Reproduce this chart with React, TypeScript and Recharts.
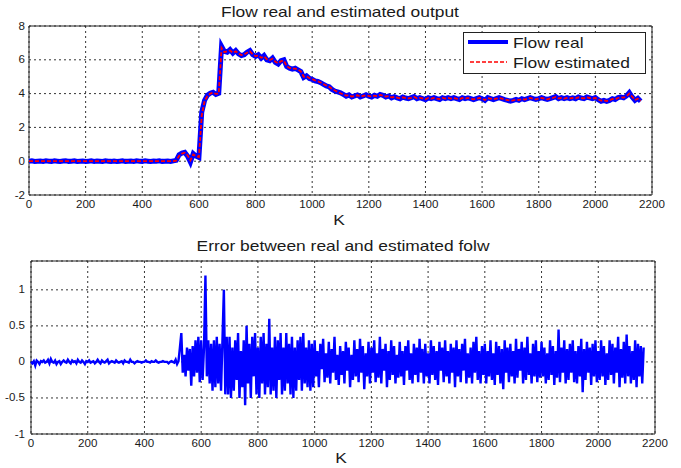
import React from "react";
import {
  LineChart,
  Line,
  XAxis,
  YAxis,
  CartesianGrid,
  ReferenceArea,
} from "recharts";

// sampling steps (in K) of the arrays below
const FLOW_STEP = 10;
const ERR_STEP = 5;

const kTicks = [0, 200, 400, 600, 800, 1000, 1200, 1400, 1600, 1800, 2000, 2200];
const flowTicks = [-2, 0, 2, 4, 6, 8];
const errTicks = [-1, -0.5, 0, 0.5, 1];

// measured flow, one value every 10 K (0 .. 2160)
const flowReal = [
  0, 0.02, -0.02, 0, 0.01, -0.02, 0.02, 0, -0.01, 0.02,
  0, -0.02, 0.01, 0.02, -0.01, 0, 0.02, -0.02, 0, 0.01,
  -0.02, 0, 0.02, -0.01, 0.01, 0, -0.02, 0.02, 0, -0.01,
  0.01, -0.02, 0, 0.02, -0.01, 0, 0.01, -0.02, 0.02, 0,
  -0.01, 0.02, 0, -0.02, 0.01, 0, 0.02, -0.01, 0, 0.01,
  -0.02, 0.02, 0.05, 0.38, 0.48, 0.52, 0.3, -0.05, 0.45, 0.3,
  0.22, 2.9, 3.6, 3.9, 4.02, 4.08, 3.95, 4.02, 6.8, 6.5,
  6.45, 6.6, 6.4, 6.55, 6.35, 6.25, 6.3, 6.45, 6.55, 6.3,
  6.2, 6.3, 6.1, 6.25, 6.0, 5.95, 6.1, 5.85, 5.75, 5.95,
  6.0, 5.6, 5.5, 5.45, 5.5, 5.4, 5.3, 4.95, 5.05, 4.9,
  4.85, 4.75, 4.72, 4.65, 4.55, 4.45, 4.4, 4.25, 4.15, 4.1,
  4.05, 3.95, 3.85, 3.92, 3.8, 3.86, 3.92, 3.8, 3.86, 3.93,
  3.85, 3.8, 3.9, 3.84, 3.95, 3.9, 3.8, 3.86, 3.75, 3.82,
  3.75, 3.7, 3.8, 3.74, 3.7, 3.76, 3.82, 3.7, 3.76, 3.7,
  3.64, 3.75, 3.7, 3.76, 3.7, 3.65, 3.76, 3.7, 3.76, 3.7,
  3.76, 3.7, 3.65, 3.76, 3.7, 3.75, 3.7, 3.64, 3.7, 3.76,
  3.7, 3.6, 3.76, 3.7, 3.64, 3.7, 3.76, 3.7, 3.64, 3.6,
  3.55, 3.6, 3.66, 3.6, 3.7, 3.64, 3.7, 3.76, 3.7, 3.65,
  3.7, 3.76, 3.7, 3.65, 3.7, 3.76, 3.82, 3.7, 3.76, 3.7,
  3.76, 3.7, 3.75, 3.7, 3.8, 3.74, 3.7, 3.8, 3.75, 3.7,
  3.76, 3.64, 3.55, 3.6, 3.54, 3.6, 3.7, 3.65, 3.76, 3.8,
  3.75, 3.86, 4.06, 3.8, 3.6, 3.72, 3.55,
];

// estimated flow, same sampling
const flowEst = [
  0, 0, 0, 0, 0, 0, 0, 0, 0, 0,
  0, 0, 0, 0, 0, 0, 0, 0, 0, 0,
  0, 0, 0, 0, 0, 0, 0, 0, 0, 0,
  0, 0, 0, 0, 0, 0, 0, 0, 0, 0,
  0, 0, 0, 0, 0, 0, 0, 0, 0, 0,
  0, 0, 0.03, 0.32, 0.45, 0.5, 0.35, 0.05, 0.4, 0.3,
  0.25, 2.7, 3.55, 3.85, 4.0, 4.05, 3.98, 4.0, 6.7, 6.45,
  6.5, 6.55, 6.42, 6.5, 6.38, 6.28, 6.32, 6.42, 6.5, 6.32,
  6.22, 6.26, 6.12, 6.2, 6.04, 5.98, 6.06, 5.88, 5.8, 5.92,
  5.95, 5.62, 5.52, 5.48, 5.48, 5.42, 5.32, 5.0, 5.02, 4.92,
  4.86, 4.78, 4.72, 4.66, 4.56, 4.48, 4.4, 4.28, 4.18, 4.1,
  4.02, 3.96, 3.88, 3.9, 3.82, 3.86, 3.9, 3.82, 3.86, 3.9,
  3.86, 3.82, 3.88, 3.85, 3.92, 3.88, 3.82, 3.85, 3.78, 3.8,
  3.76, 3.72, 3.78, 3.74, 3.72, 3.75, 3.8, 3.72, 3.75, 3.72,
  3.66, 3.74, 3.7, 3.74, 3.7, 3.67, 3.74, 3.7, 3.74, 3.7,
  3.74, 3.7, 3.67, 3.74, 3.7, 3.74, 3.7, 3.66, 3.7, 3.74,
  3.7, 3.62, 3.74, 3.7, 3.66, 3.7, 3.74, 3.7, 3.66, 3.62,
  3.58, 3.6, 3.65, 3.62, 3.68, 3.65, 3.7, 3.74, 3.7, 3.66,
  3.7, 3.74, 3.7, 3.66, 3.7, 3.74, 3.8, 3.72, 3.74, 3.7,
  3.74, 3.72, 3.74, 3.72, 3.78, 3.74, 3.72, 3.78, 3.74, 3.72,
  3.74, 3.66, 3.58, 3.6, 3.56, 3.6, 3.68, 3.66, 3.74, 3.78,
  3.76, 3.84, 4.0, 3.82, 3.62, 3.7, 3.58,
];

// error real - estimated, one value every 5 K (0 .. 2160)
const flowError = [
  0, -0.02, 0.01, -0.05, 0.02, 0, -0.03, 0.01, 0, 0.02, -0.01, 0, 0.03, -0.02, 0.04, 0, -0.01, 0.02, -0.03, 0,
  0.01, -0.03, 0, 0.02, 0, -0.01, 0.03, 0, -0.02, 0.02, 0, 0.01, -0.02, 0.03, 0, -0.01, 0.02, 0, -0.03, 0.01,
  0, 0.02, -0.01, 0, 0.01, -0.02, 0, 0.03, 0, -0.02, 0.02, 0, -0.01, 0.01, 0.03, -0.02, 0, 0.01, 0, -0.01,
  0.02, 0, -0.01, 0, 0.01, -0.02, 0.02, 0, 0, -0.01, 0.03, 0, 0, -0.02, 0, 0.01, 0, 0, -0.01, 0,
  0, 0.02, 0, 0, -0.01, 0.01, 0, 0, 0.02, 0, -0.01, 0, 0, 0.01, 0, 0, 0, -0.02, 0, 0.01,
  0, -0.01, 0.03, -0.03, 0.01, 0.2, 0.4, -0.15, 0.1, -0.2, 0.2, -0.12, 0.18, -0.33, 0.22, -0.2, 0.3, -0.15, 0.35, -0.28,
  0.3, -0.25, 0.2, 1.2, -0.2, 0.3, -0.3, 0.25, -0.4, 0.3, -0.35, 0.35, -0.3, 0.25, -0.4, 0.3, 1.0, -0.45, 0.35, -0.45,
  0.35, -0.5, 0.2, -0.4, 0.3, -0.25, 0.4, -0.5, 0.15, -0.35, 0.3, -0.6, 0.5, -0.3, 0.25, -0.5, 0.35, -0.2, 0.4, -0.45,
  0.2, -0.5, 0.35, -0.3, 0.4, -0.45, 0.25, -0.35, 0.6, -0.45, 0.2, -0.4, 0.35, -0.5, 0.3, -0.25, 0.4, -0.45, 0.2, -0.4,
  0.4, -0.3, 0.25, -0.45, 0.35, -0.5, 0.2, -0.4, 0.3, -0.25, 0.35, -0.4, 0.4, -0.3, 0.2, -0.35, 0.3, -0.4, 0.25, -0.35,
  0.3, -0.2, 0.15, -0.35, 0.25, -0.1, 0.32, -0.28, 0.12, -0.22, 0.28, -0.3, 0.18, -0.15, 0.35, -0.25, 0.1, -0.32, 0.22, -0.18,
  0.15, -0.3, 0.28, -0.12, 0.2, -0.35, 0.1, -0.25, 0.3, -0.2, 0.18, -0.28, 0.32, -0.15, 0.22, -0.38, 0.12, -0.2, 0.28, -0.3,
  0.2, -0.15, 0.3, -0.28, 0.12, -0.22, 0.35, -0.3, 0.18, -0.12, 0.25, -0.35, 0.15, -0.25, 0.3, -0.18, 0.22, -0.3, 0.1, -0.22,
  0.28, -0.2, 0.15, -0.32, 0.22, -0.12, 0.3, -0.25, 0.12, -0.3, 0.25, -0.18, 0.2, -0.28, 0.32, -0.15, 0.18, -0.3, 0.25, -0.2,
  0.12, -0.3, 0.3, -0.18, 0.22, -0.25, 0.15, -0.32, 0.28, -0.12, 0.2, -0.28, 0.3, -0.2, 0.15, -0.3, 0.25, -0.15, 0.2, -0.35,
  0.3, -0.2, 0.18, -0.28, 0.25, -0.12, 0.32, -0.3, 0.12, -0.22, 0.2, -0.3, 0.28, -0.15, 0.35, -0.25, 0.15, -0.3, 0.22, -0.18,
  0.25, -0.3, 0.15, -0.2, 0.3, -0.25, 0.12, -0.32, 0.28, -0.18, 0.22, -0.3, 0.18, -0.38, 0.3, -0.15, 0.2, -0.28, 0.25, -0.2,
  0.15, -0.3, 0.32, -0.22, 0.18, -0.12, 0.28, -0.3, 0.2, -0.25, 0.35, -0.18, 0.12, -0.3, 0.25, -0.2, 0.3, -0.28, 0.15, -0.22,
  0.28, -0.2, 0.2, -0.3, 0.12, -0.25, 0.3, -0.18, 0.22, -0.32, 0.15, -0.22, 0.45, -0.28, 0.2, -0.15, 0.3, -0.3, 0.18, -0.25,
  0.25, -0.15, 0.3, -0.28, 0.15, -0.3, 0.22, -0.2, 0.32, -0.42, 0.18, -0.25, 0.28, -0.15, 0.2, -0.32, 0.25, -0.2, 0.3, -0.28,
  0.15, -0.25, 0.3, -0.2, 0.22, -0.32, 0.12, -0.25, 0.3, -0.18, 0.25, -0.3, 0.2, -0.15, 0.35, -0.35, 0.18, -0.22, 0.28, -0.3,
  0.38, -0.2, 0.22, -0.3, 0.15, -0.25, 0.3, -0.35, 0.25, -0.2, 0.22, -0.3, 0.2,
];

const flowData = flowReal.map((v, i) => ({ k: i * FLOW_STEP, real: v, est: flowEst[i] }));
const errData = flowError.map((v, i) => ({ k: i * ERR_STEP, err: v }));

const FONT = "'Liberation Sans', Arial, sans-serif";
const TEXT = "#1a1a1a";
const STRETCH = "scale(1.16,1)";

const XTick = (props: any) => {
  const { x, y, payload } = props;
  return (
    <g transform={`translate(${x},${y})`}>
      <text x={0} y={0} dy={13} textAnchor="middle" fontSize={10} fontFamily={FONT} fill={TEXT} transform={STRETCH}>
        {payload.value}
      </text>
    </g>
  );
};

const makeYTick = (gap: number) => (props: any) => {
  const { x, y, payload } = props;
  return (
    <g transform={`translate(${x - gap},${y})`}>
      <text x={0} y={0} dy={3.5} textAnchor="end" fontSize={10} fontFamily={FONT} fill={TEXT} transform={STRETCH}>
        {payload.value}
      </text>
    </g>
  );
};

const gridProps = { stroke: "#000", strokeDasharray: "2 3", strokeWidth: 0.8 };

export default function App() {
  return (
    <div style={{ position: "absolute", left: 0, top: 0, width: 681, height: 468, background: "#fff" }}>
      <div style={{ position: "absolute", left: 0, top: 0 }}>
        <LineChart width={681} height={230} data={flowData} margin={{ top: 26, right: 29, bottom: 15, left: 0 }}>
          <CartesianGrid {...gridProps} />
          <XAxis
            dataKey="k"
            type="number"
            domain={[0, 2200]}
            ticks={kTicks}
            interval={0}
            height={20}
            tickSize={0}
            tickMargin={0}
            axisLine={false}
            tickLine={false}
            tick={<XTick />}
          />
          <YAxis
            type="number"
            domain={[-2, 8]}
            ticks={flowTicks}
            interval={0}
            width={29}
            tickSize={0}
            tickMargin={0}
            axisLine={false}
            tickLine={false}
            tick={makeYTick(4)}
          />
          <Line type="linear" dataKey="real" stroke="#0000ff" strokeWidth={5} dot={false} isAnimationActive={false} />
          <Line type="linear" dataKey="est" stroke="#ff0000" strokeWidth={1.8} strokeDasharray="4 2" dot={false} isAnimationActive={false} />
          <ReferenceArea x1={0} x2={2200} y1={-2} y2={8} fill="none" stroke="#222" strokeWidth={1} />
        </LineChart>
      </div>
      <div style={{ position: "absolute", left: 0, top: 230 }}>
        <LineChart width={681} height={238} data={errData} margin={{ top: 31, right: 26, bottom: 14, left: 0 }}>
          <CartesianGrid {...gridProps} />
          <XAxis
            dataKey="k"
            type="number"
            domain={[0, 2200]}
            ticks={kTicks}
            interval={0}
            height={20}
            tickSize={0}
            tickMargin={0}
            axisLine={false}
            tickLine={false}
            tick={<XTick />}
          />
          <YAxis
            type="number"
            domain={[-1, 1.4]}
            ticks={errTicks}
            interval={0}
            width={31}
            tickSize={0}
            tickMargin={0}
            axisLine={false}
            tickLine={false}
            tick={makeYTick(6)}
          />
          <Line type="linear" dataKey="err" stroke="#0000ff" strokeWidth={2.4} strokeLinejoin="miter" dot={false} isAnimationActive={false} />
          <ReferenceArea x1={0} x2={2200} y1={-1} y2={1.4} fill="none" stroke="#222" strokeWidth={1} />
        </LineChart>
      </div>
      <svg width={681} height={468} style={{ position: "absolute", left: 0, top: 0, pointerEvents: "none" }}>
        <g fontFamily={FONT} fill={TEXT} fontSize={15}>
          <g transform={`translate(340,17) ${STRETCH}`}>
            <text textAnchor="middle">Flow real and estimated output</text>
          </g>
          <g transform={`translate(339,225) ${STRETCH}`}>
            <text textAnchor="middle">K</text>
          </g>
          <g transform={`translate(343,251) ${STRETCH}`}>
            <text textAnchor="middle">Error between real and estimated folw</text>
          </g>
          <g transform={`translate(341,463) ${STRETCH}`}>
            <text textAnchor="middle">K</text>
          </g>
        </g>
        <rect x={463.5} y={32.5} width={182} height={41} fill="#fff" stroke="#222" strokeWidth={1} />
        <line x1={468} y1={42} x2={508} y2={42} stroke="#0000ff" strokeWidth={4} />
        <line x1={470} y1={62} x2={507} y2={62} stroke="#ff0000" strokeWidth={1.4} strokeDasharray="4 2" />
        <g fontFamily={FONT} fill={TEXT} fontSize={15}>
          <g transform={`translate(513,48) ${STRETCH}`}>
            <text>Flow real</text>
          </g>
          <g transform={`translate(513,68) ${STRETCH}`}>
            <text>Flow estimated</text>
          </g>
        </g>
      </svg>
    </div>
  );
}
